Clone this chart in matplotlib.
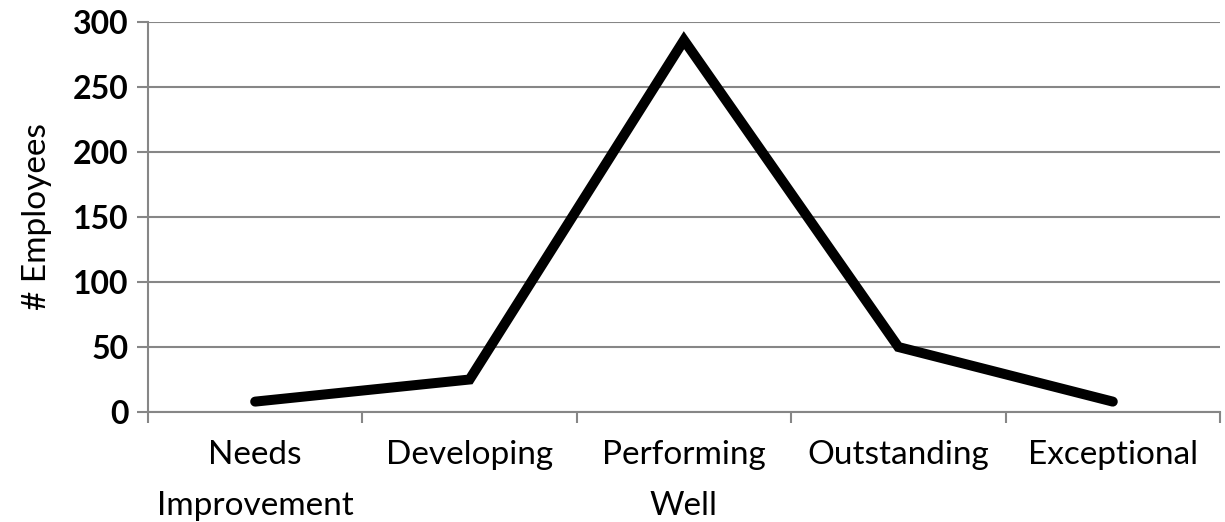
import numpy as np
import matplotlib.pyplot as plt

categories = ["Needs\nImprovement", "Developing", "Performing\nWell", "Outstanding", "Exceptional"]
employees = [8, 25, 286, 50, 8]
y_ticks = [0, 50, 100, 150, 200, 250, 300]

plt.rcParams['font.family'] = ['Lato', 'DejaVu Sans']

fig = plt.figure(figsize=(12.25, 5.22), dpi=100)
ax = fig.add_axes([0.1208, 0.2107, 0.8751, 0.7472])

x = np.arange(len(categories))
ax.plot(x, employees, color='black', linewidth=7.2, solid_joinstyle='miter', solid_capstyle='round')

ax.set_xlim(-0.5, len(categories) - 0.5)
ax.set_ylim(0, 300)
ax.set_yticks(y_ticks)
ax.set_yticklabels([str(v) for v in y_ticks], fontsize=23, fontweight='bold')
ax.yaxis.grid(True, color='#868686', linewidth=1.5)
ax.set_axisbelow(True)

# category boundaries as ticks, labels in the middle
ax.set_xticks(np.arange(-0.5, len(categories)))
ax.set_xticklabels([])
ax.set_xticks(x, minor=True)
ax.set_xticklabels(categories, minor=True, fontsize=24, linespacing=1.9)
ax.tick_params(axis='x', which='minor', length=0, pad=20)
ax.tick_params(axis='x', which='major', length=8, width=1.5, color='#868686', direction='out')
ax.tick_params(axis='y', length=8, width=1.5, color='#868686', direction='out', pad=6)

for side in ['top', 'right']:
    ax.spines[side].set_visible(False)
for side in ['left', 'bottom']:
    ax.spines[side].set_color('#868686')
    ax.spines[side].set_linewidth(1.5)

ax.set_ylabel("# Employees", fontsize=24, labelpad=15)

fig.savefig("out.png", dpi=100)
